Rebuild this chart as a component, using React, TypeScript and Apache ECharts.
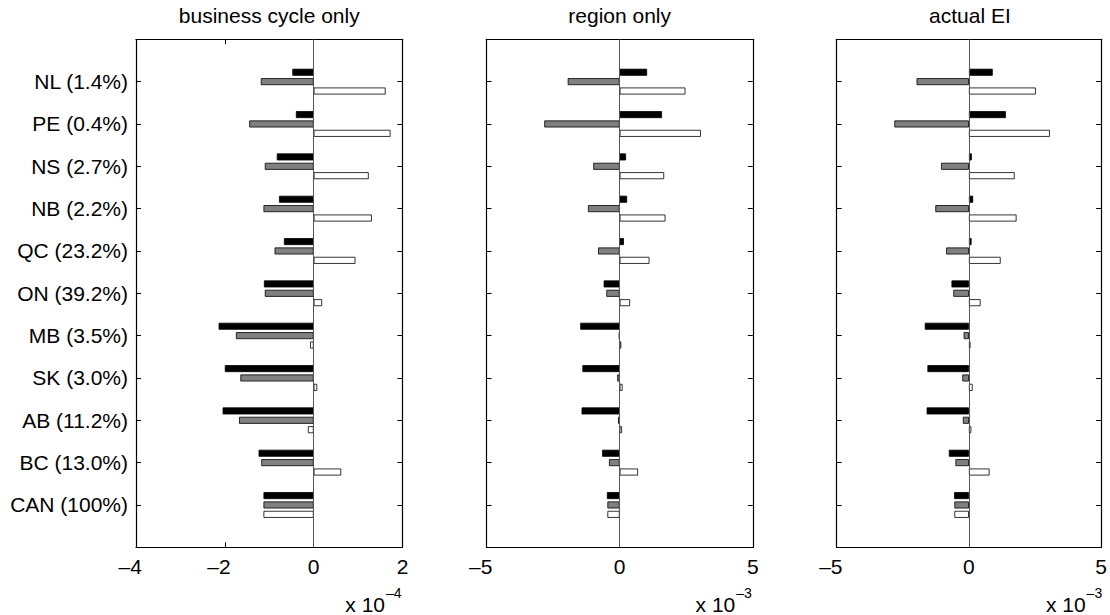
import React, { useEffect, useRef } from 'react';
import * as echarts from 'echarts';

// Provinces with their employment share
const regions = [
  'NL (1.4%)', 'PE (0.4%)', 'NS (2.7%)', 'NB (2.2%)', 'QC (23.2%)', 'ON (39.2%)',
  'MB (3.5%)', 'SK (3.0%)', 'AB (11.2%)', 'BC (13.0%)', 'CAN (100%)',
];

// business cycle only (units of 1e-4)
const cycleDark = [-0.48, -0.40, -0.83, -0.78, -0.67, -1.12, -2.14, -2.00, -2.05, -1.24, -1.13];
const cycleMid = [-1.19, -1.45, -1.10, -1.13, -0.88, -1.10, -1.75, -1.65, -1.68, -1.18, -1.13];
const cycleLight = [1.62, 1.73, 1.24, 1.31, 0.94, 0.19, -0.08, 0.08, -0.13, 0.62, -1.13];

// region only (units of 1e-3)
const regionDark = [1.03, 1.59, 0.24, 0.28, 0.16, -0.60, -1.48, -1.40, -1.43, -0.66, -0.48];
const regionMid = [-1.95, -2.83, -0.99, -1.19, -0.81, -0.50, -0.03, -0.09, -0.06, -0.40, -0.46];
const regionLight = [2.47, 3.05, 1.67, 1.72, 1.12, 0.39, 0.06, 0.11, 0.09, 0.69, -0.46];

// actual EI (units of 1e-3)
const eiDark = [0.90, 1.40, 0.11, 0.16, 0.10, -0.66, -1.67, -1.57, -1.60, -0.76, -0.56];
const eiMid = [-1.98, -2.82, -1.05, -1.27, -0.86, -0.59, -0.20, -0.25, -0.23, -0.51, -0.55];
const eiLight = [2.53, 3.06, 1.73, 1.80, 1.20, 0.44, 0.06, 0.14, 0.09, 0.78, -0.55];

const titles = ['business cycle only', 'region only', 'actual EI'];
const exponents = ['\u20134', '\u20133', '\u20133'];
const xRanges = [
  { min: -4, max: 2, interval: 2 },
  { min: -5, max: 5, interval: 5 },
  { min: -5, max: 5, interval: 5 },
];
const panelData = [
  [cycleDark, cycleMid, cycleLight],
  [regionDark, regionMid, regionLight],
  [eiDark, eiMid, eiLight],
];

const FONT = '"Liberation Sans", Arial, Helvetica, sans-serif';
const barColors = ['#000000', '#808080', '#ffffff'];
const seriesNames = ['dark', 'mid', 'light'];

const layout = [
  { left: 136, width: 266.5 },
  { left: 486.5, width: 266.3 },
  { left: 836.7, width: 266.5 },
];
const TOP = 39.3;
const HEIGHT = 508;

// padded so that the category positions sit one step in from each border
const paddedCats = ['', ...regions, ''];
const pad = (arr: number[]) => [null, ...arr, null];

function buildOption(): echarts.EChartsOption {
  const grid: any[] = [];
  const xAxis: any[] = [];
  const yAxis: any[] = [];
  const series: any[] = [];
  const graphic: any[] = [];

  layout.forEach((g, i) => {
    grid.push({ left: g.left, top: TOP, width: g.width, height: HEIGHT, containLabel: false });

    const r = xRanges[i];
    const tickCommon = { show: true, inside: true, length: 5, lineStyle: { color: '#000', width: 1 } };
    const lineCommon = { show: true, onZero: false, lineStyle: { color: '#000', width: 1.2 } };

    xAxis.push({
      type: 'value', gridIndex: i, position: 'bottom', min: r.min, max: r.max, interval: r.interval,
      axisLine: lineCommon, axisTick: tickCommon, splitLine: { show: false },
      axisLabel: {
        show: true, margin: 9, color: '#000', fontSize: 21, fontFamily: FONT,
        formatter: (v: number) => (v < 0 ? `{t|\u2013${Math.abs(v)}}{h|\u2013}` : `{t|${v}}`),
        rich: {
          t: { fontSize: 21, fontFamily: FONT, color: '#000' },
          h: { fontSize: 21, fontFamily: FONT, color: 'rgba(0,0,0,0)' },
        },
      },
    });
    xAxis.push({
      type: 'value', gridIndex: i, position: 'top', min: r.min, max: r.max, interval: r.interval,
      axisLine: lineCommon, axisTick: tickCommon, splitLine: { show: false }, axisLabel: { show: false },
    });

    const yCommon = {
      type: 'category', gridIndex: i, data: paddedCats, inverse: true, boundaryGap: false,
      axisLine: lineCommon, axisTick: { ...tickCommon, interval: 0 }, splitLine: { show: false },
    };
    yAxis.push({
      ...yCommon, position: 'left',
      axisLabel: {
        show: i === 0, interval: 0, margin: 8, color: '#000', fontSize: 21, fontFamily: FONT,
      },
    });
    yAxis.push({ ...yCommon, position: 'right', axisLabel: { show: false } });

    panelData[i].forEach((vals, k) => {
      const s: any = {
        type: 'bar', name: seriesNames[k], xAxisIndex: i * 2, yAxisIndex: i * 2,
        data: pad(vals), barWidth: 7, barGap: '34%',
        itemStyle: { color: barColors[k], borderColor: '#000', borderWidth: 0.8 },
        emphasis: { disabled: true }, silent: true,
      };
      if (k === 0) {
        s.markLine = {
          silent: true, symbol: ['none', 'none'], label: { show: false },
          lineStyle: { color: '#555', width: 1, type: 'solid' },
          data: [{ xAxis: 0 }],
        };
      }
      series.push(s);
    });

    const cx = g.left + g.width / 2;
    const right = g.left + g.width;
    graphic.push({
      type: 'text', x: cx, y: 15.5,
      style: {
        text: titles[i], fill: '#000', fontSize: 21, fontFamily: FONT,
        textAlign: 'center', textVerticalAlign: 'middle', align: 'center', verticalAlign: 'middle',
      },
    });
    graphic.push({
      type: 'text', x: right - 17.5, y: 604,
      style: {
        text: 'x 10', fill: '#000', fontSize: 21, fontFamily: FONT,
        textAlign: 'right', textVerticalAlign: 'middle', align: 'right', verticalAlign: 'middle',
      },
    });
    graphic.push({
      type: 'text', x: right - 1, y: 592.5,
      style: {
        text: exponents[i], fill: '#000', fontSize: 14, fontFamily: FONT,
        textAlign: 'right', textVerticalAlign: 'middle', align: 'right', verticalAlign: 'middle',
      },
    });
  });

  return {
    animation: false,
    backgroundColor: '#ffffff',
    textStyle: { fontFamily: FONT },
    grid, xAxis, yAxis, series, graphic,
  };
}

export default function App() {
  const ref = useRef<HTMLDivElement>(null);
  useEffect(() => {
    if (!ref.current) return;
    const chart = echarts.init(ref.current, undefined, { renderer: 'svg' });
    chart.setOption(buildOption());
    return () => chart.dispose();
  }, []);
  return (
    <div
      ref={ref}
      style={{ position: 'fixed', left: 0, top: 0, width: 1110, height: 615, background: '#fff' }}
    />
  );
}
